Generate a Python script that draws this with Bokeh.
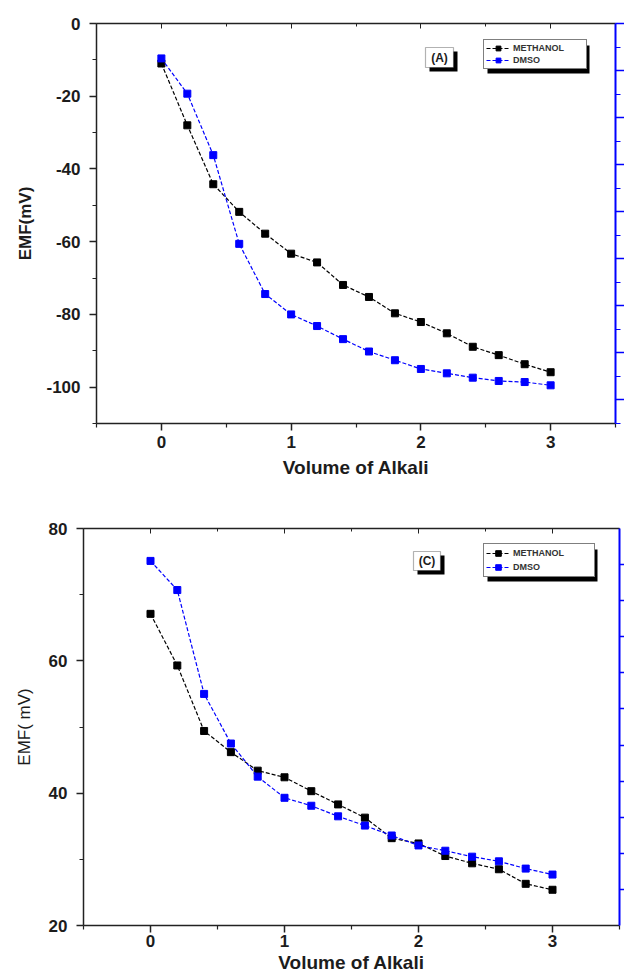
from bokeh.plotting import figure
from bokeh.models import (Range1d, LinearAxis, FixedTicker, Legend, LegendItem, Label,
                          BoxAnnotation, CustomJSTickFormatter)
from bokeh.embed import file_html
from bokeh.resources import INLINE

# ---------------- data ----------------
volume = [0.0, 0.2, 0.4, 0.6, 0.8, 1.0, 1.2, 1.4, 1.6, 1.8, 2.0, 2.2, 2.4, 2.6, 2.8, 3.0]

a_methanol = [-11.0, -28.0, -44.2, -51.8, -57.8, -63.3, -65.7, -71.9, -75.2, -79.7,
              -82.1, -85.2, -88.9, -91.2, -93.7, -95.9]
a_dmso = [-9.6, -19.3, -36.2, -60.6, -74.4, -80.0, -83.2, -86.8, -90.2, -92.6,
          -95.0, -96.2, -97.4, -98.3, -98.6, -99.5]

c_methanol = [67.1, 59.3, 49.4, 46.2, 43.4, 42.4, 40.3, 38.3, 36.3, 33.2,
              32.4, 30.5, 29.4, 28.5, 26.3, 25.4]
c_dmso = [75.1, 70.7, 55.0, 47.5, 42.5, 39.3, 38.1, 36.5, 35.1, 33.6,
          32.1, 31.3, 30.4, 29.7, 28.6, 27.7]

series_names = ["METHANOL", "DMSO"]
x_ticks = [0, 1, 2, 3]
x_minor = [-0.5, 0.5, 1.5, 2.5, 3.5]
a_y_ticks = [0, -20, -40, -60, -80, -100]
a_y_minor = [-10, -30, -50, -70, -90, -110]
c_y_ticks = [20, 40, 60, 80]
c_y_minor = [30, 50, 70]
a_right_ticks = [0, 1, 2, 3, 4, 5, 6, 7, 8]
a_right_minor = [-0.5, 0.5, 1.5, 2.5, 3.5, 4.5, 5.5, 6.5, 7.5]
c_right_ticks = [1, 2, 3, 4, 5, 6, 7, 8, 9, 10]

# ---------------- style / layout ----------------
FONT = "Liberation Sans"
BLUE = "#0000ff"
TXT = "#1c1c1c"
AX = "#222222"


def blank():
    return CustomJSTickFormatter(code="return '';")


def style_axis(ax, font_size="17px"):
    ax.axis_line_width = 1.5
    ax.axis_line_color = AX
    ax.major_tick_line_color = AX
    ax.minor_tick_line_color = AX
    ax.major_tick_line_width = 1.5
    ax.minor_tick_line_width = 1.2
    ax.major_tick_out = 7
    ax.major_tick_in = 0
    ax.minor_tick_out = 4
    ax.minor_tick_in = 0
    ax.major_label_text_font = FONT
    ax.major_label_text_font_size = font_size
    ax.major_label_text_font_style = "bold"
    ax.major_label_text_color = TXT
    ax.axis_label_text_font = FONT
    ax.axis_label_text_color = TXT
    ax.formatter = CustomJSTickFormatter(code="return String(tick);")


def make_panel(yr, yt, ym, rng_right, rt, rm, m_vals, d_vals, ylabel, ylabel_style,
               tag, tag_box, leg_box, height, borders, ylab_standoff, x_standoffs, r_tick):
    left, right, top, bottom = borders
    W = 624
    fw = W - left - right
    fh = height - top - bottom
    xr = (-0.5, 3.5)
    p = figure(width=W, height=height, x_range=Range1d(*xr), y_range=Range1d(*yr),
               output_backend="svg", toolbar_location=None,
               min_border_left=left, min_border_right=right,
               min_border_top=top, min_border_bottom=bottom)
    p.outline_line_color = None
    p.xgrid.visible = False
    p.ygrid.visible = False

    def dx(px):  # frame pixel (from left) -> data x
        return xr[0] + px * (xr[1] - xr[0]) / fw

    def dy(py):  # frame pixel (from top) -> data y
        return yr[1] - py * (yr[1] - yr[0]) / fh

    p.xaxis.ticker = FixedTicker(ticks=x_ticks, minor_ticks=x_minor)
    p.yaxis.ticker = FixedTicker(ticks=yt, minor_ticks=ym)
    style_axis(p.xaxis[0])
    style_axis(p.yaxis[0])
    p.xaxis.major_label_standoff = x_standoffs[0]
    p.yaxis.major_label_standoff = 9
    p.xaxis.axis_label = "Volume of Alkali"
    p.xaxis.axis_label_text_font_size = "19px"
    p.xaxis.axis_label_text_font_style = "bold"
    p.xaxis.axis_label_standoff = x_standoffs[1]
    p.yaxis.axis_label = ylabel
    p.yaxis.axis_label_text_font_size = "17px"
    p.yaxis.axis_label_text_font_style = ylabel_style
    p.yaxis.axis_label_standoff = ylab_standoff

    top_ax = LinearAxis(ticker=FixedTicker(ticks=x_ticks, minor_ticks=x_minor),
                        formatter=blank())
    top_ax.axis_line_width = 1.5
    top_ax.axis_line_color = AX
    top_ax.major_tick_line_color = AX
    top_ax.minor_tick_line_color = AX
    top_ax.major_tick_in = 5
    top_ax.major_tick_out = 0
    top_ax.minor_tick_in = 3
    top_ax.minor_tick_out = 0
    top_ax.major_label_standoff = 0
    p.add_layout(top_ax, "above")

    p.extra_y_ranges = {"right": rng_right}
    r_ax = LinearAxis(y_range_name="right", ticker=FixedTicker(ticks=rt, minor_ticks=rm),
                      formatter=blank())
    r_ax.axis_line_color = BLUE
    r_ax.axis_line_width = 2
    r_ax.major_tick_line_color = BLUE
    r_ax.minor_tick_line_color = BLUE
    r_ax.major_tick_line_width = 1.5
    r_ax.major_tick_out = r_tick
    r_ax.major_tick_in = 0
    r_ax.minor_tick_out = 5
    r_ax.minor_tick_in = 0
    r_ax.major_label_standoff = 0
    p.add_layout(r_ax, "right")

    items = []
    for vals, col, name in ((m_vals, "black", series_names[0]), (d_vals, BLUE, series_names[1])):
        ln = p.line(volume, vals, line_color=col, line_width=1.2, line_dash="4 2")
        sc = p.scatter(volume, vals, marker="square", size=7, fill_color=col, line_color=col)
        items.append(LegendItem(label=name, renderers=[ln, sc]))

    # tag label box with drop shadow
    tl, tt, tw, th = tag_box
    sh = 4
    p.add_layout(BoxAnnotation(left=dx(tl + sh), right=dx(tl + tw + sh),
                               top=dy(tt + sh), bottom=dy(tt + th + sh),
                               fill_color="black", fill_alpha=1, line_color=None))
    p.add_layout(BoxAnnotation(left=dx(tl), right=dx(tl + tw), top=dy(tt), bottom=dy(tt + th),
                               fill_color="white", fill_alpha=1, line_color="black",
                               line_width=1.2))
    p.add_layout(Label(x=dx(tl + tw / 2), y=dy(tt + th / 2), text=tag,
                       text_font=FONT, text_font_size="12px", text_font_style="bold",
                       text_color=TXT, text_align="center", text_baseline="middle"))

    # legend with drop shadow
    ll, lt, lw, lh = leg_box
    p.add_layout(BoxAnnotation(left=dx(ll + sh), right=dx(ll + lw + sh),
                               top=dy(lt + sh), bottom=dy(lt + lh + sh),
                               fill_color="black", fill_alpha=1, line_color=None))
    gh = (lh - 4) // 2
    lg = Legend(items=items, location=(ll, fh - lt - lh),
                background_fill_color="white", background_fill_alpha=1.0,
                border_line_color="black", border_line_width=1.2,
                label_text_font=FONT, label_text_font_size="9px",
                label_text_font_style="bold", label_text_color="#333333",
                glyph_height=gh, glyph_width=24, label_height=gh,
                label_width=lw - 4 - 24 - 3, label_standoff=3, spacing=0, padding=2, margin=0)
    p.add_layout(lg, "center")
    return p


# tag_box / leg_box: (left, top, width, height) in frame pixels
pA = make_panel((-110, 0), a_y_ticks, a_y_minor, Range1d(-0.5, 8), a_right_ticks, a_right_minor,
                a_methanol, a_dmso, "EMF(mV)", "bold", "(A)",
                (329, 24, 28, 20), (387, 18, 102, 28),
                490, (96, 9, 23, 67), 8, (5, 6), 9)
pC = make_panel((20, 80), c_y_ticks, c_y_minor, Range1d(0, 11), c_right_ticks, [],
                c_methanol, c_dmso, "EMF( mV)", "normal", "(C)",
                (330, 23, 27, 19), (400, 17, 110, 32),
                486, (83, 5, 38, 51), 12, (2, 2), 5)

open("out.html", "w").write(file_html([pA, pC], INLINE))
